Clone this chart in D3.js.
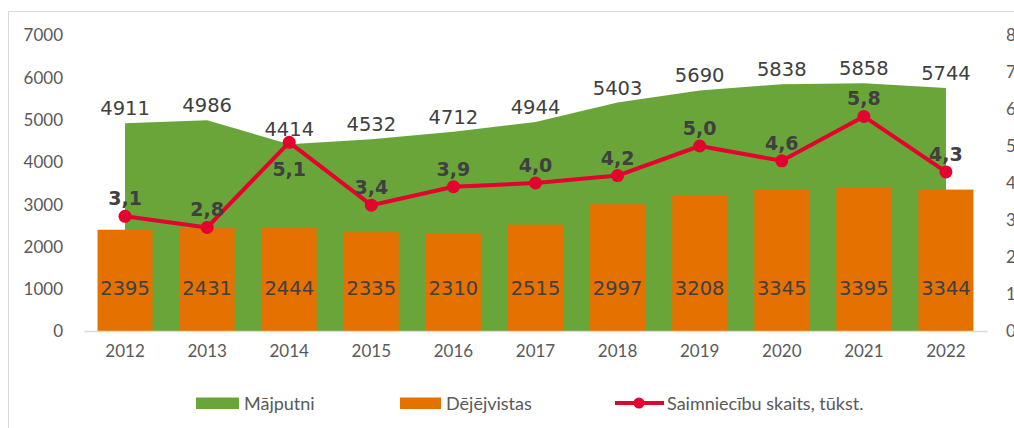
<!DOCTYPE html>
<html>
<head>
<meta charset="utf-8">
<script src="https://cdn.jsdelivr.net/npm/d3@7"></script>
<style>
  body { margin: 0; background: #fff; }
  .tick text { fill: #595959; }
</style>
</head>
<body>
<div id="chart"></div>
<script>
var width = 1014;
var height = 428;
var margin = {top: 35, left: 84, right: 27, bottom: 97};

var years = ["2012","2013","2014","2015","2016","2017","2018","2019","2020","2021","2022"];
var majputni = [4911, 4986, 4414, 4532, 4712, 4944, 5403, 5690, 5838, 5858, 5744];
var dejejvistas = [2395, 2431, 2444, 2335, 2310, 2515, 2997, 3208, 3345, 3395, 3344];
var saimniecibas = [3.1, 2.8, 5.1, 3.4, 3.9, 4.0, 4.2, 5.0, 4.6, 5.8, 4.3];
var lineLabelPos = ["up","up","down","up","up","up","up","up","up","up","up"];
var leftTicks = [0, 1000, 2000, 3000, 4000, 5000, 6000, 7000];
var rightTicks = [0, 1, 2, 3, 4, 5, 6, 7, 8];

var tickFont = "Lato, sans-serif";
var labelFont = "'DejaVu Sans', Verdana, sans-serif";

var svg = d3.select("#chart")
  .append("svg")
  .attr("width", width)
  .attr("height", height);

// chart frame
svg.append("rect")
  .attr("x", 8.5).attr("y", 11.5)
  .attr("width", 1100).attr("height", 500)
  .attr("fill", "none")
  .attr("stroke", "#d9d9d9");

var xScale = d3.scaleBand()
  .domain(years)
  .range([margin.left, width - margin.right])
  .paddingInner(0.34)
  .paddingOuter(0.17);

var step = (width - margin.left - margin.right) / years.length;
function cx(y) { return margin.left + step * (years.indexOf(y) + 0.5); }

var yScale = d3.scaleLinear()
  .domain([0, 7000])
  .range([height - margin.bottom, margin.top]);

var y2Scale = d3.scaleLinear()
  .domain([0, 8])
  .range([height - margin.bottom, margin.top]);

// left axis
var yAxis = svg.append("g")
  .attr("transform", `translate(${margin.left - 21},0)`)
  .call(d3.axisLeft(yScale).tickValues(leftTicks).tickFormat(d3.format("d")).tickSize(0).tickPadding(0));
yAxis.select(".domain").remove();
yAxis.selectAll("text")
  .attr("font-family", tickFont).attr("font-size", 17).attr("dy", "0.35em");

// right axis (cut at the edge, as in the original)
var y2Axis = svg.append("g")
  .attr("transform", `translate(1006,0)`)
  .call(d3.axisRight(y2Scale).tickValues(rightTicks).tickSize(0).tickPadding(0));
y2Axis.select(".domain").remove();
y2Axis.selectAll("text")
  .attr("font-family", tickFont).attr("font-size", 17).attr("dy", "0.35em");

// area for Mājputni
var area = d3.area()
  .x(function(d, i) { return cx(years[i]); })
  .y0(yScale(0))
  .y1(function(d) { return yScale(d); });

svg.append("path")
  .datum(majputni)
  .attr("d", area)
  .attr("fill", "#6aa539");

// bars for Dējējvistas
svg.selectAll(".bar")
  .data(dejejvistas)
  .enter()
  .append("rect")
    .attr("class", "bar")
    .attr("x", function(d, i) { return cx(years[i]) - 27.5; })
    .attr("y", function(d) { return yScale(d); })
    .attr("width", 55)
    .attr("height", function(d) { return yScale(0) - yScale(d); })
    .attr("fill", "#e47100");

// x axis
var xAxis = svg.append("g")
  .attr("transform", `translate(0,${height - margin.bottom})`)
  .call(d3.axisBottom(xScale).tickSize(0).tickPadding(14));
xAxis.select(".domain").attr("stroke", "#d9d9d9").attr("stroke-width", 1.5);
xAxis.selectAll(".tick").attr("transform", function(d) { return `translate(${cx(d)},0)`; });
xAxis.selectAll("text")
  .attr("font-family", tickFont).attr("font-size", 17);

// line for Saimniecību skaits
var line = d3.line()
  .x(function(d, i) { return cx(years[i]); })
  .y(function(d) { return y2Scale(d); });

svg.append("path")
  .datum(saimniecibas)
  .attr("d", line)
  .attr("fill", "none")
  .attr("stroke", "#e4032e")
  .attr("stroke-width", 4)
  .attr("stroke-linejoin", "round");

svg.selectAll(".dot")
  .data(saimniecibas)
  .enter()
  .append("circle")
    .attr("cx", function(d, i) { return cx(years[i]); })
    .attr("cy", function(d) { return y2Scale(d); })
    .attr("r", 6.5)
    .attr("fill", "#e4032e");

// labels
svg.selectAll(".areaLabel")
  .data(majputni)
  .enter()
  .append("text")
    .attr("x", function(d, i) { return cx(years[i]); })
    .attr("y", function(d) { return yScale(d) - 8; })
    .attr("text-anchor", "middle")
    .attr("font-family", labelFont)
    .attr("font-size", 19.5)
    .attr("fill", "#404040")
    .text(function(d) { return d; });

svg.selectAll(".barLabel")
  .data(dejejvistas)
  .enter()
  .append("text")
    .attr("x", function(d, i) { return cx(years[i]); })
    .attr("y", 295)
    .attr("text-anchor", "middle")
    .attr("font-family", labelFont)
    .attr("font-size", 19.5)
    .attr("fill", "#404040")
    .text(function(d) { return d; });

svg.selectAll(".lineLabel")
  .data(saimniecibas)
  .enter()
  .append("text")
    .attr("x", function(d, i) { return cx(years[i]); })
    .attr("y", function(d, i) { return lineLabelPos[i] == "up" ? y2Scale(d) - 11 : y2Scale(d) + 34; })
    .attr("text-anchor", "middle")
    .attr("font-family", labelFont)
    .attr("font-weight", "bold")
    .attr("font-size", 19)
    .attr("fill", "#404040")
    .text(function(d) { return d.toFixed(1).replace(".", ","); });

// legend
var legend = svg.append("g")
  .attr("font-family", tickFont)
  .attr("font-size", 18)
  .attr("fill", "#595959");

legend.append("rect").attr("x", 196).attr("y", 397.5).attr("width", 43).attr("height", 11.5).attr("fill", "#6aa539");
legend.append("text").attr("x", 244).attr("y", 410).text("Mājputni");

legend.append("rect").attr("x", 400).attr("y", 397.5).attr("width", 41).attr("height", 11.5).attr("fill", "#e47100");
legend.append("text").attr("x", 446).attr("y", 410).text("Dējējvistas");

legend.append("line").attr("x1", 615).attr("x2", 664).attr("y1", 403).attr("y2", 403)
  .attr("stroke", "#e4032e").attr("stroke-width", 4);
legend.append("circle").attr("cx", 639).attr("cy", 403).attr("r", 5.5).attr("fill", "#e4032e");
legend.append("text").attr("x", 667).attr("y", 410).text("Saimniecību skaits, tūkst.");
</script>
</body>
</html>
